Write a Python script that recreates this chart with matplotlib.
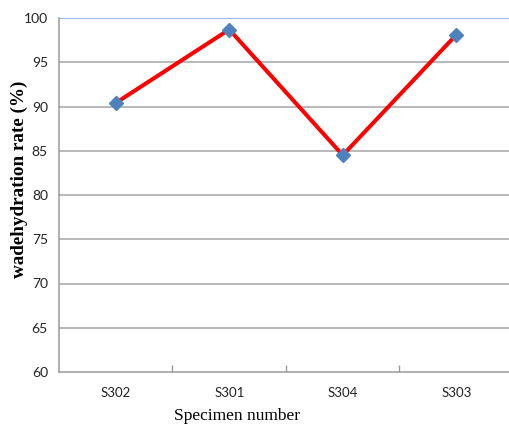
import matplotlib.pyplot as plt
from matplotlib.ticker import FixedLocator

specimens = ['S302', 'S301', 'S304', 'S303']
rate = [90.4, 98.7, 84.5, 98.1]
yticks = [60, 65, 70, 75, 80, 85, 90, 95, 100]

fig = plt.figure(figsize=(5.1, 4.3), dpi=100)
# plot area runs a little past the right edge of the figure
ax = fig.add_axes([59 / 510, 58 / 430, 454 / 510, 354 / 430])

x = list(range(len(specimens)))
ax.plot(x, rate, color='#ff0000', lw=2.9, zorder=3, solid_capstyle='round')
ax.plot(x, rate, ls='none', marker='D', ms=7.5, color='#4f81bd', zorder=4)

ax.set_xlim(-0.5, len(specimens) - 0.5)
ax.set_ylim(60, 100)
ax.set_yticks(yticks)
ax.set_xticks(x)
ax.set_xticklabels(specimens)
ax.xaxis.set_minor_locator(FixedLocator([0.5, 1.5, 2.5]))

for y in yticks[1:-1]:
    ax.axhline(y, color='#a6a6a6', lw=1.1, zorder=1)
ax.axhline(100, color='#7aa1d6', lw=1.1, zorder=1)

for side in ['top', 'right']:
    ax.spines[side].set_visible(False)
for side in ['left', 'bottom']:
    ax.spines[side].set_color('#9a9a9a')
    ax.spines[side].set_linewidth(1.1)

tick_font = ['Lato', 'DejaVu Sans']
ax.tick_params(axis='y', length=0, pad=8, labelsize=10, labelcolor='#222222')
ax.tick_params(axis='x', which='major', length=0, pad=11, labelsize=9.5, labelcolor='#222222')
ax.tick_params(axis='x', which='minor', direction='in', length=5, color='#9a9a9a', width=1)
for lab in ax.get_xticklabels() + ax.get_yticklabels():
    lab.set_family(tick_font)

fig.text(19 / 510, 1 - 179 / 430, 'wadehydration rate (%)', rotation=90,
         ha='center', va='center', family='Liberation Serif', fontweight='bold', fontsize=13.8)
fig.text(237 / 510, 1 - 416 / 430, 'Specimen number', ha='center', va='center',
         family='Liberation Serif', fontsize=12.5)

fig.savefig('out.png', dpi=100)
